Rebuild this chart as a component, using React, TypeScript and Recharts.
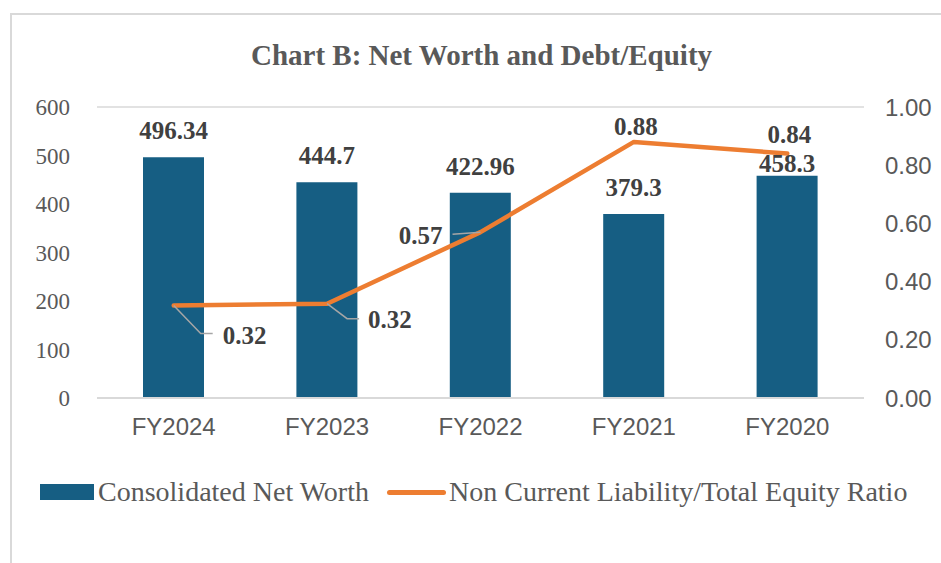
import React from 'react'
import {
  ComposedChart,
  Bar,
  Line,
  XAxis,
  YAxis,
  CartesianGrid,
  LabelList,
} from 'recharts'

// chart values
const years = ['FY2024', 'FY2023', 'FY2022', 'FY2021', 'FY2020']
const netWorth = [496.34, 444.7, 422.96, 379.3, 458.3]
const debtEquity = [0.318, 0.324, 0.57, 0.88, 0.84]
const leftTicks = [0, 100, 200, 300, 400, 500, 600]
const rightTicks = [0, 0.2, 0.4, 0.6, 0.8, 1.0]

const data = years.map((year, i) => ({
  year,
  netWorth: netWorth[i],
  ratio: debtEquity[i],
}))

const BAR_COLOR = '#165e83'
const LINE_COLOR = '#ed7d31'
const TEXT = '#595959'
const GRID = '#d9d9d9'
const SERIF = '"Liberation Serif", "DejaVu Serif", serif'
const SANS = '"Liberation Sans", Arial, sans-serif'

// gap between bar top and its label baseline (last one got pushed down in the original)
const barLabelGap = [18, 18, 18, 18, 4]

// where each ratio label sits relative to its point (Excel-style dragged labels)
const ratioLabelLayout = [
  { dx: 49, dy: 31, anchor: 'start', leader: 'M0,0 L27,28 L39,28' },
  { dx: 41, dy: 16, anchor: 'start', leader: 'M0,0 L20,15 L32,15' },
  { dx: -38, dy: 4, anchor: 'end', leader: 'M0,0 L-28,2' },
  { dx: 2, dy: -15, anchor: 'middle', leader: '' },
  { dx: 2, dy: -19, anchor: 'middle', leader: '' },
]

const BarValueLabel = (props: any) => {
  const { x, y, width, value, index } = props
  return (
    <text
      x={x + width / 2}
      y={y - (barLabelGap[index] ?? 18)}
      textAnchor="middle"
      fontFamily={SERIF}
      fontWeight="bold"
      fontSize={25}
      fill="#404040"
    >
      {value}
    </text>
  )
}

const RatioLabel = (props: any) => {
  const { x, y, value, index } = props
  const l = ratioLabelLayout[index]
  if (!l) return null
  return (
    <g>
      {l.leader && (
        <path
          d={l.leader}
          transform={`translate(${x},${y})`}
          stroke="#a6a6a6"
          strokeWidth={1.5}
          fill="none"
        />
      )}
      <text
        x={x + l.dx}
        y={y + l.dy + 8}
        textAnchor={l.anchor}
        fontFamily={SERIF}
        fontWeight="bold"
        fontSize={25}
        fill="#404040"
      >
        {Number(value).toFixed(2)}
      </text>
    </g>
  )
}

const ChartLegend = () => (
  <div
    style={{
      position: 'absolute',
      left: 40,
      top: 476,
      display: 'flex',
      alignItems: 'center',
      fontFamily: SERIF,
      fontSize: 28,
      color: TEXT,
      whiteSpace: 'nowrap',
    }}
  >
    <span style={{ display: 'inline-block', width: 54, height: 16, background: BAR_COLOR, marginRight: 4 }} />
    <span>Consolidated Net Worth</span>
    <span
      style={{
        display: 'inline-block',
        width: 59,
        height: 5,
        borderRadius: 3,
        background: LINE_COLOR,
        marginLeft: 18,
        marginRight: 3,
      }}
    />
    <span>Non Current Liability/Total Equity Ratio</span>
  </div>
)

export default function App() {
  return (
    <div
      style={{
        position: 'fixed',
        left: 0,
        top: 0,
        width: 941,
        height: 563,
        overflow: 'hidden',
        background: '#fff',
      }}
    >
      <div
        style={{
          position: 'absolute',
          left: 10,
          top: 13,
          width: 1000,
          height: 700,
          border: `2px solid ${GRID}`,
        }}
      />
      <div
        style={{
          position: 'absolute',
          left: 0,
          width: 963,
          top: 39,
          textAlign: 'center',
          fontFamily: SERIF,
          fontWeight: 'bold',
          fontSize: 29,
          color: TEXT,
        }}
      >
        Chart B: Net Worth and Debt/Equity
      </div>
      <div style={{ position: 'absolute', left: 0, top: 0 }}>
        <ComposedChart
          width={941}
          height={563}
          data={data}
          margin={{ top: 107, right: 0, bottom: 125, left: 0 }}
        >
          <CartesianGrid vertical={false} stroke={GRID} strokeWidth={1.5} />
          <XAxis
            dataKey="year"
            axisLine={{ stroke: GRID, strokeWidth: 2 }}
            tickLine={false}
            tickSize={0}
            tickMargin={20}
            height={40}
            tick={{ fontFamily: SANS, fontSize: 24, fill: TEXT }}
          />
          <YAxis
            yAxisId="left"
            domain={[0, 600]}
            ticks={leftTicks}
            axisLine={false}
            tickLine={false}
            tickSize={0}
            tickMargin={27}
            width={97}
            tick={{ fontFamily: SERIF, fontSize: 23, fill: TEXT }}
          />
          <YAxis
            yAxisId="right"
            orientation="right"
            domain={[0, 1]}
            ticks={rightTicks}
            axisLine={false}
            tickLine={false}
            tickSize={0}
            tickMargin={21}
            width={77}
            tickFormatter={(v: number) => v.toFixed(2)}
            tick={{ fontFamily: SANS, fontSize: 24, fill: TEXT }}
          />
          <Bar
            yAxisId="left"
            dataKey="netWorth"
            name="Consolidated Net Worth"
            fill={BAR_COLOR}
            barSize={61}
            isAnimationActive={false}
          >
            <LabelList dataKey="netWorth" content={<BarValueLabel />} />
          </Bar>
          <Line
            yAxisId="right"
            dataKey="ratio"
            name="Non Current Liability/Total Equity Ratio"
            stroke={LINE_COLOR}
            strokeWidth={4.5}
            strokeLinecap="round"
            strokeLinejoin="round"
            dot={false}
            activeDot={false}
            isAnimationActive={false}
          >
            <LabelList dataKey="ratio" content={<RatioLabel />} />
          </Line>
        </ComposedChart>
      </div>
      <ChartLegend />
    </div>
  )
}
